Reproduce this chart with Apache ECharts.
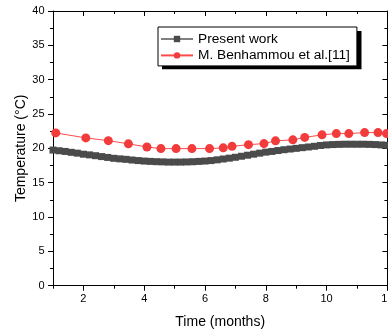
<!DOCTYPE html>
<html><head><meta charset="utf-8">
<script src="https://cdn.jsdelivr.net/npm/echarts@6/dist/echarts.min.js"></script>
<style>html,body{margin:0;padding:0;background:#fff}#c{width:388px;height:335px}</style>
</head><body><div id="c"></div><script>
const presentMonths = [1.0,1.2,1.4,1.6,1.8,2.0,2.2,2.4,2.6,2.8,3.0,3.2,3.4,3.6,3.8,4.0,4.2,4.4,4.6,4.8,5.0,5.2,5.4,5.6,5.8,6.0,6.2,6.4,6.6,6.8,7.0,7.2,7.4,7.6,7.8,8.0,8.2,8.4,8.6,8.8,9.0,9.2,9.4,9.6,9.8,10.0,10.2,10.4,10.6,10.8,11.0,11.2,11.4,11.6,11.8,12.0];
const presentTemps = [19.75,19.65,19.55,19.42,19.3,19.15,19.05,18.93,18.8,18.68,18.55,18.47,18.4,18.3,18.22,18.15,18.1,18.06,18.03,18.0,18.0,18.0,18.02,18.05,18.1,18.15,18.22,18.33,18.45,18.57,18.7,18.85,19.0,19.15,19.3,19.45,19.55,19.68,19.8,19.9,20.0,20.1,20.2,20.3,20.42,20.5,20.55,20.58,20.6,20.6,20.6,20.6,20.58,20.55,20.5,20.45];
const refMonths = [1.09,2.08,2.82,3.48,4.09,4.55,5.05,5.57,6.15,6.60,6.89,7.43,7.94,8.32,8.89,9.28,9.85,10.32,10.73,11.25,11.69,11.97];
const refTemps = [22.25,21.52,21.12,20.66,20.20,19.96,19.96,19.96,19.96,20.07,20.29,20.54,20.69,21.09,21.24,21.59,21.97,22.15,22.15,22.29,22.29,22.15];
const xMajorValues = [2,4,6,8,10,12];
const xMinorValues = [1,3,5,7,9,11];
const seriesNames = ['Present work','M. Benhammou et al.[11]'];

const FONT = "'Liberation Sans', Arial, sans-serif";
const zip = (a,b) => a.map((v,i)=>[v,b[i]]);
const chart = echarts.init(document.getElementById('c'), null, {renderer:'canvas'});
const baseX = {type:'value', min:1, max:12, splitLine:{show:false}, axisLine:{show:true, lineStyle:{color:'#000', width:1}}};
chart.setOption({
  animation:false,
  backgroundColor:'#fff',
  grid:{left:53, right:0.6, top:11, bottom:49.3, containLabel:false, outerBoundsMode:'none'},
  graphic:[{type:'rect', left:162, top:31, shape:{width:199.5, height:38.3}, style:{fill:'#000'}, z:0, silent:true}],
  legend:{
    orient:'vertical', left:158, top:27, z:5,
    padding:[5,7,3.5,2], itemGap:2.4, itemWidth:32, itemHeight:8,
    backgroundColor:'#fff', borderColor:'#000', borderWidth:1,
    textStyle:{fontFamily:FONT, fontSize:13.7, color:'#000'},
    data:seriesNames
  },
  xAxis:[
    Object.assign({}, baseX, {position:'bottom', name:'Time (months)', nameLocation:'middle', nameGap:29, nameMoveOverlap:false,
      nameTextStyle:{fontFamily:FONT, fontSize:14, color:'#000'},
      axisTick:{show:true, length:5, customValues:xMajorValues, lineStyle:{color:'#000'}},
      axisLabel:{show:true, customValues:xMajorValues, margin:8, fontFamily:FONT, fontSize:11, color:'#000'}}),
    Object.assign({}, baseX, {position:'bottom', axisLine:{show:false},
      axisTick:{show:true, length:3, customValues:xMinorValues, lineStyle:{color:'#000'}},
      axisLabel:{show:false}}),
    Object.assign({}, baseX, {position:'top',
      axisTick:{show:true, inside:true, length:5, customValues:xMajorValues, lineStyle:{color:'#000'}},
      axisLabel:{show:false}}),
    Object.assign({}, baseX, {position:'top', axisLine:{show:false},
      axisTick:{show:true, inside:true, length:3, customValues:xMinorValues, lineStyle:{color:'#000'}},
      axisLabel:{show:false}})
  ],
  yAxis:[
    {type:'value', min:0, max:40, interval:5, position:'left',
      name:'Temperature (°C)', nameLocation:'middle', nameGap:25, nameMoveOverlap:false,
      nameTextStyle:{fontFamily:FONT, fontSize:14, color:'#000'},
      splitLine:{show:false},
      axisLine:{show:true, lineStyle:{color:'#000'}},
      axisTick:{show:true, length:5, lineStyle:{color:'#000'}},
      minorTick:{show:true, splitNumber:2, length:3, lineStyle:{color:'#000'}},
      axisLabel:{margin:8.5, fontFamily:FONT, fontSize:11, color:'#000'}},
    {type:'value', min:0, max:40, interval:5, position:'right',
      splitLine:{show:false},
      axisLine:{show:true, lineStyle:{color:'#000'}},
      axisTick:{show:true, inside:true, length:5, lineStyle:{color:'#000'}},
      minorTick:{show:true, splitNumber:2, length:3, lineStyle:{color:'#000'}},
      axisLabel:{show:false}}
  ],
  series:[
    {name:seriesNames[0], type:'line', xAxisIndex:0, yAxisIndex:0,
      data:zip(presentMonths, presentTemps),
      symbol:'rect', symbolSize:7, showAllSymbol:true, clip:true,
      lineStyle:{color:'#808080', width:1},
      itemStyle:{color:'#4b4b4b'}},
    {name:seriesNames[1], type:'line', xAxisIndex:0, yAxisIndex:0,
      data:zip(refMonths, refTemps),
      symbol:'circle', symbolSize:9, showAllSymbol:true, clip:true,
      lineStyle:{color:'#ff4a4a', width:1},
      itemStyle:{color:'#f23c3c'}}
  ]
});
</script></body></html>
